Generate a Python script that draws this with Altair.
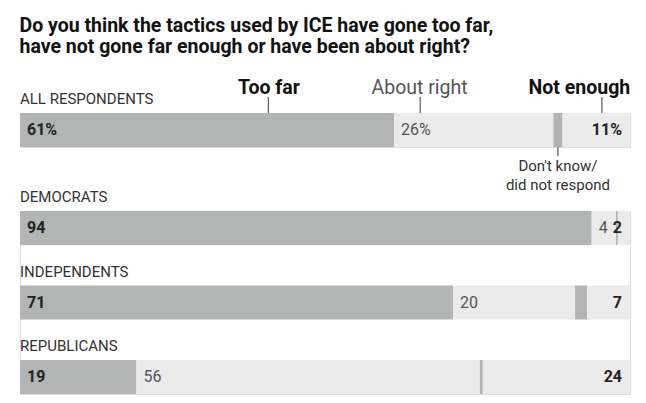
import altair as alt
import pandas as pd

# ---------------- data ----------------
rows = ["ALL RESPONDENTS", "DEMOCRATS", "INDEPENDENTS", "REPUBLICANS"]
categories = ["Too far", "About right", "Don't know/did not respond", "Not enough"]
too_far = [61, 94, 71, 19]
about_right = [26, 4, 20, 56]
dont_know = [1.5, 0.3, 2, 0.5]
not_enough = [11, 2, 7, 24]
too_far_labels = ["61%", "94", "71", "19"]
about_right_labels = ["26%", "4", "20", "56"]
not_enough_labels = ["11%", "2", "7", "24"]

title_lines = [
    "Do you think the tactics used by ICE have gone too far,",
    "have not gone far enough or have been about right?",
]
header_texts = ["Too far", "About right", "Not enough"]
header_bold = [True, False, True]
header_text_pos = [0.408, 0.655, 0.917]   # where each header sits along the bar
header_tick_pos = [0.407, 0.656, 0.954]   # where each pointer meets the bar
dk_note = ["Don't know/", "did not respond"]

# ---------------- styling ----------------
DARK = "#b3b5b5"
LIGHT = "#ebebeb"
FONT = "Roboto"

# ---------------- tables ----------------
seg_records, lab_records = [], []
for i, r in enumerate(rows):
    vals = [too_far[i], about_right[i], dont_know[i], not_enough[i]]
    total = sum(vals)
    start = 0.0
    starts = []
    for k, (c, v) in enumerate(zip(categories, vals)):
        s, e = start / total, (start + v) / total
        starts.append((s, e))
        seg_records.append({"row": r, "cat": c, "value": v, "order": k, "start": s, "end": e})
        start += v
    lab_records.append({
        "row": r,
        "tf_label": too_far_labels[i], "tf_x": starts[0][0],
        "ar_label": about_right_labels[i], "ar_x": starts[1][0],
        "ne_label": not_enough_labels[i], "ne_x": starts[3][1],
        "dk_mid": (starts[2][0] + starts[2][1]) / 2,
    })
seg = pd.DataFrame(seg_records)
lab = pd.DataFrame(lab_records)

hdr = pd.DataFrame({"text": header_texts, "bold": header_bold,
                    "tx": header_text_pos, "kx": header_tick_pos})

xs = alt.Scale(domain=[0, 1], nice=False, zero=False)


def panel(row_names, height, pad_inner, annotate=False):
    s = seg[seg["row"].isin(row_names)]
    l = lab[lab["row"].isin(row_names)]
    y = alt.Y("row:N", axis=None, sort=row_names,
              scale=alt.Scale(paddingInner=pad_inner, paddingOuter=0))
    bars = alt.Chart(s).mark_bar().encode(
        x=alt.X("start:Q", scale=xs, axis=None),
        x2="end:Q",
        y=y,
        color=alt.Color("cat:N", scale=alt.Scale(domain=categories,
                                                 range=[DARK, LIGHT, DARK, LIGHT]),
                        legend=None),
        order="order:Q",
    )
    base = alt.Chart(l)
    row_lbl = base.mark_text(align="left", baseline="alphabetic", dy=-26,
                             fontSize=15, color="#333333", font=FONT).encode(
        x=alt.value(0), y=y, text="row:N")
    tf = base.mark_text(align="left", baseline="middle", dx=7, fontSize=16,
                        fontWeight="bold", color="#222222", font=FONT).encode(
        x=alt.X("tf_x:Q", scale=xs), y=y, text="tf_label:N")
    ar = base.mark_text(align="left", baseline="middle", dx=7, fontSize=16,
                        color="#555555", font=FONT).encode(
        x=alt.X("ar_x:Q", scale=xs), y=y, text="ar_label:N")
    ne = base.mark_text(align="right", baseline="middle", dx=-8, fontSize=16,
                        fontWeight="bold", color="#222222", font=FONT).encode(
        x=alt.X("ne_x:Q", scale=xs), y=y, text="ne_label:N")
    layers = [bars, row_lbl, tf, ar, ne]
    if annotate:
        h = alt.Chart(hdr)
        hb = h.transform_filter("datum.bold").mark_text(
            align="center", baseline="alphabetic", fontSize=19.5, fontWeight="bold",
            color="#121212", font=FONT).encode(
            x=alt.X("tx:Q", scale=xs), y=alt.value(-19), text="text:N")
        hn = h.transform_filter("!datum.bold").mark_text(
            align="center", baseline="alphabetic", fontSize=19.5,
            color="#555555", font=FONT).encode(
            x=alt.X("tx:Q", scale=xs), y=alt.value(-19), text="text:N")
        ht = h.mark_rule(color="#333333", strokeWidth=1).encode(
            x=alt.X("kx:Q", scale=xs), y=alt.value(-16), y2=alt.value(0))
        dk_tick = base.mark_rule(color="#333333", strokeWidth=1).encode(
            x=alt.X("dk_mid:Q", scale=xs), y=alt.value(34), y2=alt.value(43))
        dk_t1 = base.mark_text(align="center", baseline="alphabetic", fontSize=15,
                               color="#333333", font=FONT, text=dk_note[0]).encode(
            x=alt.X("dk_mid:Q", scale=xs), y=alt.value(58))
        dk_t2 = base.mark_text(align="center", baseline="alphabetic", fontSize=15,
                               color="#333333", font=FONT, text=dk_note[1]).encode(
            x=alt.X("dk_mid:Q", scale=xs), y=alt.value(77))
        layers += [ht, hb, hn, dk_tick, dk_t1, dk_t2]
    return alt.layer(*layers).properties(width=610, height=height)


top = panel(rows[:1], 34, 0, annotate=True)
rest = panel(rows[1:], 183, 0.5436)

chart = alt.vconcat(top, rest, spacing=64, bounds="flush").properties(
    title=alt.Title(title_lines, anchor="start", fontSize=19.5, fontWeight="bold",
                    color="#121212", font=FONT, lineHeight=21, offset=20),
    padding={"left": 11, "top": 8, "right": 5, "bottom": 5},
).configure_view(stroke=None).configure(font=FONT, background="white")

chart.save("out.html", embed_options={"renderer": "svg", "actions": False})
